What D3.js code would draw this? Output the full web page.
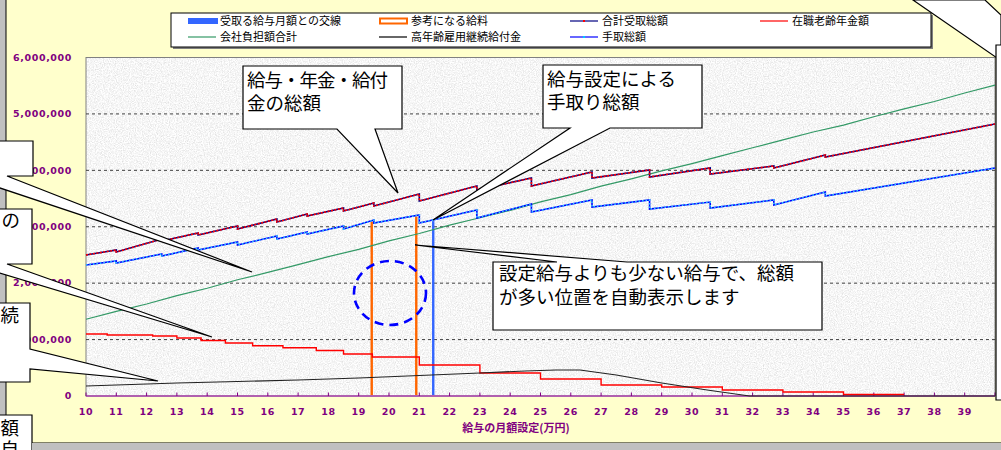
<!DOCTYPE html>
<html>
<head>
<meta charset="utf-8">
<script src="https://cdn.jsdelivr.net/npm/d3@7"></script>
<style>
body { margin: 0; background: #fff; }
svg { display: block; }
</style>
</head>
<body>
<div id="root"></div>
<script>
// x: 給与の月額設定 (万円), y: 円
var xTicks = [10,11,12,13,14,15,16,17,18,19,20,21,22,23,24,25,26,27,28,29,30,31,32,33,34,35,36,37,38,39];
var yTicks = [0,1000000,2000000,3000000,4000000,5000000,6000000];

// 合計受取総額 (drops are repeated x values)
var totalReceived = [[10,2500000],[11,2588000],[11,2552000],[12.5,2783000],[12.5,2747000],[13.7,2889000],[13.7,2854000],
  [15,3013000],[15,2960000],[16.3,3137000],[16.3,3084000],[17.3,3226000],[17.3,3190000],[18.5,3332000],[18.5,3279000],
  [19.5,3421000],[19.5,3368000],[21,3580000],[21,3456000],[22.9,3722000],[22.9,3651000],[24.7,3864000],[24.7,3722000],
  [26.7,3970000],[26.7,3864000],[28.6,4006000],[28.6,3882000],[30.6,4041000],[30.6,3935000],[32.7,4077000],[32.7,4041000],
  [34.4,4271000],[34.4,4236000],[40,4821000]];

// 手取総額
var netTotal = [[10,2322000],[11,2393000],[11,2357000],[12.5,2517000],[12.5,2481000],[13.7,2623000],[13.7,2588000],
  [15,2730000],[15,2676000],[16.3,2836000],[16.3,2783000],[17.3,2907000],[17.3,2871000],[18.5,3013000],[18.5,2960000],
  [19.5,3119000],[19.5,3066000],[21,3208000],[21,3066000],[22.9,3297000],[22.9,3155000],[24.7,3403000],[24.7,3261000],
  [26.7,3474000],[26.7,3350000],[28.6,3474000],[28.6,3314000],[30.6,3438000],[30.6,3332000],[32.7,3474000],[32.7,3385000],
  [34.4,3616000],[34.4,3545000],[40,4041000]];

// 会社負担額合計
var companyCost = [[10,1360000],[11,1500000],[12,1630000],[13,1780000],[14,1910000],[15,2060000],[16,2190000],[17,2330000],
  [18,2470000],[19,2600000],[20,2750000],[21,2880000],[22,3030000],[23,3160000],[24,3290000],[25,3440000],[26,3570000],
  [27,3720000],[28,3850000],[29,3990000],[30,4120000],[31,4260000],[32,4400000],[33,4540000],[34,4680000],[35,4800000],
  [36,4950000],[37,5090000],[38,5220000],[39,5370000],[40,5510000]];

// 在職老齢年金額 (step)
var pension = [[10,1099000],[10.7,1081000],[12.2,1063000],[13,1028000],[13.8,984000],[14.6,939000],[15.5,892000],
  [16.5,856000],[17.6,806000],[18.5,744000],[19.45,691000],[21,549000],[23,408000],[25,301000],[27,195000],
  [29,160000],[31,106000],[33,71000],[35,27000],[37,27000]];

// 高年齢雇用継続給付金
var employmentBenefit = [[10,177000],[11,195000],[13,230000],[15,257000],[17,284000],[19,319000],[21,363000],
  [23,408000],[24.5,443000],[25.5,461000],[26.3,461000],[27.5,372000],[29,230000],[30.5,106000],[31.9,0],[40,0]];

// 参考になる給料 / 受取る給与月額との交線
var referenceSalary = [[19.43,3090000],[20.9,3180000]];
var crossSalary = [[21.46,3100000]];

var legendItems = [
  {name:"受取る給与月額との交線", type:"bar", color:"#3366ff"},
  {name:"参考になる給料", type:"hollow", color:"#ff6600"},
  {name:"合計受取総額", type:"line", color:"#000080", dot:"#ff0000"},
  {name:"在職老齢年金額", type:"line", color:"#ff0000"},
  {name:"会社負担額合計", type:"line", color:"#339966"},
  {name:"高年齢雇用継続給付金", type:"line", color:"#000000"},
  {name:"手取総額", type:"line", color:"#0000ff", dot:"#00ccff"}
];

var W = 1001, H = 450;
var purple = "#800080";
var jp = "'Noto Sans CJK JP', sans-serif";

var svg = d3.select("#root").append("svg")
    .attr("width", W).attr("height", H);

var defs = svg.append("defs");
var f = defs.append("filter").attr("id", "granite")
    .attr("x", 0).attr("y", 0).attr("width", "100%").attr("height", "100%");
f.append("feTurbulence").attr("type", "fractalNoise").attr("baseFrequency", 0.85)
    .attr("numOctaves", 3).attr("seed", 4);
f.append("feColorMatrix").attr("type", "matrix")
    .attr("values", "0.5 0 0 0 0.67  0.5 0 0 0 0.67  0.5 0 0 0 0.67  0 0 0 0 1");

// chart background
svg.append("rect").attr("width", W).attr("height", H).attr("fill", "#c0c0c0");
svg.append("rect").attr("x", 6).attr("y", -2).attr("width", W).attr("height", 445)
    .attr("fill", "#ffffcc").attr("stroke", "#000").attr("stroke-width", 1);

var x = d3.scaleLinear().domain([10, 40]).range([86, 995]);
var y = d3.scaleLinear().domain([0, 6000000]).range([396, 57.5]);

// plot area
svg.append("rect").attr("x", 86).attr("y", 57.5).attr("width", 909).attr("height", 338.5)
    .attr("fill", "#e8e8e8").attr("filter", "url(#granite)");
svg.append("rect").attr("x", 86).attr("y", 57.5).attr("width", 909).attr("height", 338.5)
    .attr("fill", "none").attr("stroke", "#808080");

// gridlines
svg.append("g").selectAll("line").data(yTicks.filter(function (d) { return d > 0 && d < 6000000; }))
  .join("line")
    .attr("x1", 86).attr("x2", 995)
    .attr("y1", function (d) { return y(d); }).attr("y2", function (d) { return y(d); })
    .attr("stroke", "#404040").attr("stroke-dasharray", "3,3");

// y labels
svg.append("g").selectAll("text").data(yTicks).join("text")
    .attr("x", 72).attr("y", function (d) { return y(d); })
    .attr("dy", "0.35em").attr("text-anchor", "end")
    .attr("font-family", "DejaVu Sans").attr("font-weight", "bold").attr("font-size", 9.5)
    .attr("letter-spacing", 0.6).attr("fill", purple)
    .text(function (d) { return d3.format(",")(d); });

// bars
svg.append("g").selectAll("rect").data(referenceSalary).join("rect")
    .attr("x", function (d) { return x(d[0]) - 1.2; }).attr("width", 2.4)
    .attr("y", function (d) { return y(d[1]); })
    .attr("height", function (d) { return y(0) - y(d[1]); })
    .attr("fill", "#ff6600");
svg.append("g").selectAll("rect").data(crossSalary).join("rect")
    .attr("x", function (d) { return x(d[0]) - 1.2; }).attr("width", 2.4)
    .attr("y", function (d) { return y(d[1]); })
    .attr("height", function (d) { return y(0) - y(d[1]); })
    .attr("fill", "#3366ff");

var line = d3.line().x(function (d) { return x(d[0]); }).y(function (d) { return y(d[1]); });
var stepLine = d3.line().x(function (d) { return x(d[0]); }).y(function (d) { return y(d[1]); })
    .curve(d3.curveStepAfter);

// x axis line
svg.append("line").attr("x1", 86).attr("x2", 995).attr("y1", 396).attr("y2", 396)
    .attr("stroke", "#b060b0").attr("stroke-width", 2.2);
svg.append("g").selectAll("line").data(xTicks.concat([40])).join("line")
    .attr("x1", function (d) { return x(d); }).attr("x2", function (d) { return x(d); })
    .attr("y1", 396).attr("y2", 392.5)
    .attr("stroke", purple).attr("stroke-width", 1);

svg.append("path").datum(companyCost).attr("d", line)
    .attr("fill", "none").attr("stroke", "#339966").attr("stroke-width", 1.2);
svg.append("path").datum(pension).attr("d", stepLine)
    .attr("fill", "none").attr("stroke", "#ff0000").attr("stroke-width", 1.4);
svg.append("path").datum(employmentBenefit).attr("d", line)
    .attr("fill", "none").attr("stroke", "#222").attr("stroke-width", 1.1);

svg.append("path").datum(totalReceived).attr("d", line)
    .attr("fill", "none").attr("stroke", "#000080").attr("stroke-width", 1.6);
svg.append("path").datum(totalReceived).attr("d", line)
    .attr("fill", "none").attr("stroke", "#ff0000").attr("stroke-width", 1.6)
    .attr("stroke-dasharray", "2,1.5");
svg.append("path").datum(netTotal).attr("d", line)
    .attr("fill", "none").attr("stroke", "#0000ff").attr("stroke-width", 1.6);
svg.append("path").datum(netTotal).attr("d", line)
    .attr("fill", "none").attr("stroke", "#33ccff").attr("stroke-width", 1.6)
    .attr("stroke-dasharray", "1.5,2");

// dashed circle
svg.append("ellipse").attr("cx", 390).attr("cy", 293).attr("rx", 36).attr("ry", 32)
    .attr("fill", "none").attr("stroke", "#0000ff").attr("stroke-width", 2.6)
    .attr("stroke-dasharray", "9,6");

// x labels
svg.append("g").selectAll("text").data(xTicks).join("text")
    .attr("x", function (d) { return x(d); }).attr("y", 412).attr("dy", "0.35em")
    .attr("text-anchor", "middle")
    .attr("font-family", "DejaVu Sans").attr("font-weight", "bold").attr("font-size", 9.5)
    .attr("letter-spacing", 0.6).attr("fill", purple)
    .text(function (d) { return d; });

svg.append("text").attr("x", 516).attr("y", 428).attr("dy", "0.35em").attr("text-anchor", "middle")
    .attr("font-family", jp).attr("font-weight", "bold").attr("font-size", 11)
    .attr("fill", purple).text("給与の月額設定(万円)");

// legend
var lg = svg.append("g");
lg.append("rect").attr("x", 173).attr("y", 15).attr("width", 760).attr("height", 34).attr("fill", "#808080");
lg.append("rect").attr("x", 171).attr("y", 13).attr("width", 760).attr("height", 34)
    .attr("fill", "#fff").attr("stroke", "#000");
var colX = [188, 379, 570, 760];
legendItems.forEach(function (d, i) {
  var cx = colX[i < 4 ? i : i - 4], cy = i < 4 ? 21 : 37;
  if (d.type === "bar") {
    lg.append("rect").attr("x", cx).attr("y", cy - 3).attr("width", 30).attr("height", 6).attr("fill", d.color);
  } else if (d.type === "hollow") {
    lg.append("rect").attr("x", cx + 1).attr("y", cy - 2.5).attr("width", 27).attr("height", 5)
        .attr("fill", "#fff").attr("stroke", d.color).attr("stroke-width", 2);
  } else {
    lg.append("line").attr("x1", cx).attr("x2", cx + 28).attr("y1", cy).attr("y2", cy)
        .attr("stroke", d.color).attr("stroke-width", 1.2);
    if (d.dot) lg.append("rect").attr("x", cx + 13).attr("y", cy - 1).attr("width", 2).attr("height", 2).attr("fill", d.dot);
  }
  lg.append("text").attr("x", cx + 32).attr("y", cy).attr("dy", "0.36em")
      .attr("font-family", jp).attr("font-size", 11).attr("fill", "#000").text(d.name);
});

// callouts
var callouts = [
  {d: "M243,66H402V129H375L398,193L337,129H243Z", lines: [["給与・年金・給付", 247, 80, "start", -1], ["金の総額", 247, 103]]},
  {d: "M543,65H702V128H610L433,220L570,128H543Z", lines: [["給与設定による", 547, 79], ["手取り総額", 547, 102]]},
  {d: "M493,262H557L415,245L627,262H822V330H493Z", lines: [["設定給与よりも少ない給与で、総額", 499, 273], ["が多い位置を自動表示します", 499, 297]]},
  {d: "M-40,141H33V176H7L252,272L-36,176H-40Z", lines: []},
  {d: "M-40,209H32V264H7L212,337L-30,264H-40Z", lines: [["の", 20, 220, "end"]]},
  {d: "M-40,303H30V349L158,381L30,369V382H-40Z", lines: [["続", 19, 315, "end"]]},
  {d: "M-40,415H32V470H-40Z", lines: [["額", 19, 428, "end"]]},
  {d: "M913,0L997,58L1001,58L1001,15L985,0Z", lines: []},
  {d: "M996,45H1010V400H996Z", lines: []}
];
callouts.forEach(function (c) {
  svg.append("path").attr("d", c.d).attr("fill", "#fff").attr("stroke", "#000").attr("stroke-width", 1.2);
  c.lines.forEach(function (l) {
    svg.append("text").attr("x", l[1]).attr("y", l[2]).attr("dy", "0.36em")
        .attr("text-anchor", l[3] || "start")
        .attr("letter-spacing", l[4] || 0)
        .attr("font-family", jp).attr("font-size", 18.5).attr("fill", "#000").text(l[0]);
  });
});

// bottom strip
svg.append("rect").attr("x", 32).attr("y", 443).attr("width", W).attr("height", 10).attr("fill", "#c0c0c0");
// 自 of the cut-off callout, only its top shows above the window edge
svg.append("text").attr("x", 19).attr("y", 449).attr("dy", "0.36em").attr("text-anchor", "end")
    .attr("font-family", jp).attr("font-size", 18.5).attr("fill", "#000").text("自");
</script>
</body>
</html>
